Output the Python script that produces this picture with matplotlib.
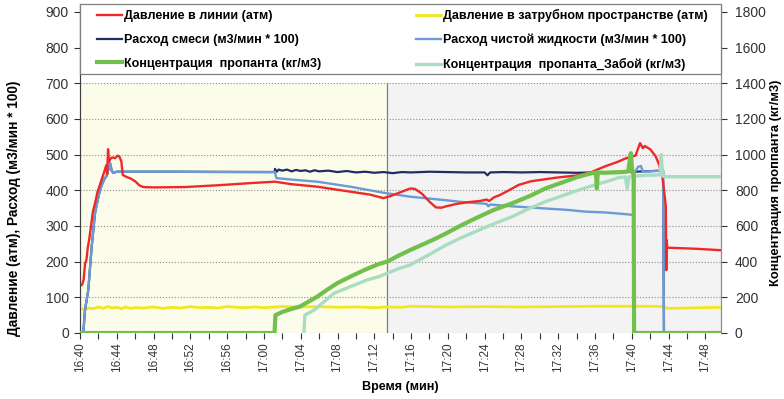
import matplotlib.pyplot as plt
from matplotlib.patches import Rectangle
from matplotlib.ticker import MultipleLocator, FuncFormatter

plt.rcParams['font.family'] = ['Liberation Sans', 'DejaVu Sans']

# время в минутах от 16:40
t_end = 69.7
t_split = 33.4

line_t = [0.0, 0.25, 0.4, 0.55, 0.7, 0.85, 1.0, 1.2, 1.4, 1.65, 1.9, 2.1, 2.35, 2.55, 2.7,
          2.85, 2.95, 3.05, 3.15, 3.3, 3.5, 3.8, 4.1, 4.3, 4.5, 4.65, 5.0, 5.5, 6.0, 6.5,
          6.9, 8.0, 11.4, 15.0, 18.5, 21.2, 23.0, 25.8, 29.4, 31.5, 33.0, 33.8, 34.7,
          35.9, 36.4, 37.2, 38.0, 38.7, 39.3, 39.8, 41.0, 42.0, 43.5, 44.2, 44.5, 45.0,
          45.6, 46.5, 47.7, 49.0, 50.6, 52.0, 54.2, 55.5, 57.1, 58.5, 59.3, 60.0, 60.4,
          60.9, 61.2, 61.4, 62.0, 62.6, 63.0, 63.35, 63.55, 63.7, 63.75, 63.8, 63.85,
          65.0, 67.0, 69.7]
line_p = [132, 136, 150, 195, 205, 240, 262, 300, 340, 365, 395, 410, 430, 445, 457,
          470, 445, 515, 480, 488, 492, 490, 497, 494, 480, 443, 438, 433, 425, 413,
          409, 408, 409, 414, 420, 424, 417, 410, 396, 388, 378, 384, 393,
          405, 404, 390, 368, 352, 351, 355, 362, 366, 370, 374, 370, 380,
          386, 398, 415, 425, 431, 436, 442, 450, 467, 480, 489, 495, 497,
          532, 518, 524, 515, 495, 470, 433, 390, 355, 176, 260, 239,
          238, 236, 232]

annulus_t = [0, 0.5, 1, 1.5, 2, 2.5, 3, 3.5, 4, 4.5, 5, 5.5, 6, 7, 8, 9, 10, 11, 12, 13,
             14, 15, 16, 17, 18, 19, 20, 22, 24, 26, 28, 30, 32, 33.5, 35, 36, 38, 40,
             44, 48, 52, 56, 60, 62, 63.6, 63.8, 66, 69.7]
annulus_p = [68, 66, 70, 68, 73, 69, 74, 70, 72, 68, 73, 69, 71, 70, 73, 69, 72, 70, 74, 71,
             72, 70, 74, 72, 71, 73, 71, 74, 73, 74, 72, 73, 71, 73, 72, 75, 74, 73,
             74, 73, 74, 75, 75, 75, 74, 69, 70, 72]

slurry_t = [0, 0.36, 0.54, 0.9, 1.27, 1.63, 1.9, 2.18, 2.45, 2.7, 2.9, 3.05, 3.27, 3.45,
            3.6, 4.0, 10.0, 21.15, 21.2, 21.4, 21.6, 22.0, 22.5, 23.0, 23.5, 24.0, 24.5,
            25.0, 25.5, 26.0, 27.0, 28.0, 29.0, 30.0, 31.0, 32.0, 33.0, 34.0, 35.0, 36.0,
            38.0, 40.0, 42.0, 44.0, 44.3, 44.6, 46.0, 48.0, 50.0, 52.0, 54.0, 56.0, 58.0,
            60.0, 60.3, 63.4, 63.5, t_end]
slurry_q = [0, 0, 64, 120, 242, 335, 370, 401, 420, 434, 440, 455, 476, 455,
            449, 452, 452, 451, 460, 452, 458, 455, 458, 453, 457, 454, 456,
            452, 456, 453, 455, 451, 454, 450, 452, 449, 451, 448, 451, 450,
            452, 451, 450, 450, 442, 450, 451, 450, 451, 450, 449, 450, 451,
            452, 452, 455, 0, 0]

clean_t = [0, 0.36, 0.54, 0.9, 1.27, 1.63, 1.9, 2.18, 2.45, 2.7, 2.9, 3.05, 3.27, 3.45,
           3.6, 4.0, 10.0, 15.0, 21.2, 21.35, 23.0, 25.8, 29.4, 33.0, 35.9, 39.8, 42.0,
           44.2, 44.4, 44.6, 47.0, 50.6, 53.0, 55.0, 57.0, 59.8, 60.2, 60.3, 60.7, 61.0,
           61.2, 62.0, 63.0, 63.4, 63.5, t_end]
clean_q = [0, 0, 64, 120, 242, 335, 370, 401, 420, 434, 440, 455, 476, 455,
           449, 452, 452, 451, 451, 434, 430, 424, 410, 393, 382, 372, 366,
           362, 355, 360, 355, 349, 345, 340, 338, 332, 330, 450, 466, 468,
           452, 453, 455, 455, 0, 0]

conc_t = [0, 21.15, 21.25, 22, 23, 23.9, 25, 25.8, 26.8, 28, 29.4, 31, 32.5, 33.4, 34.5,
          35.9, 37, 38.5, 39.8, 41.5, 43.4, 45, 47, 49, 50.6, 52.5, 54.2, 55.6, 56.1,
          56.2, 56.3, 57, 58, 59, 59.6, 59.9, 60.05, 60.2, 60.25, t_end]
conc_c = [0, 0, 100, 118, 135, 148, 180, 204, 240, 280, 316, 355, 387, 400, 430,
          465, 490, 525, 558, 605, 652, 690, 727, 770, 810, 845, 876, 895, 900,
          810, 900, 898, 900, 902, 905, 1008, 900, 900, 0, 0]

bottom_t = [24.35, 24.45, 25.5, 27.6, 29.5, 31.2, 32.5, 33.4, 34.7, 35.9, 36.2, 38, 39.8,
            41.5, 43.4, 45, 47, 48.5, 50.6, 52.5, 54.2, 56, 57.8, 58.5, 59.3, 59.5, 59.7,
            60.5, 61.5, 62.5, 63.1, 63.2, 63.35, 63.5, t_end]
bottom_c = [0, 100, 130, 222, 262, 297, 316, 335, 362, 381, 390, 440, 493,
            535, 577, 612, 652, 690, 736, 770, 801, 830, 857, 870, 875, 810, 875,
            880, 884, 885, 888, 1000, 880, 876, 876]

fig = plt.figure(figsize=(7.84, 3.99), dpi=100)
ax = fig.add_axes([80 / 784, 1 - 333 / 399, 641 / 784, 329 / 399])
ax2 = ax.twinx()

ytop = 922
ax.set_xlim(0, t_end)
ax.set_ylim(0, ytop)
ax2.set_ylim(0, 2 * ytop)

# фон: до и после разделителя
ax.fill_between([0, t_split], 0, 700, color='#fcfcea', lw=0, zorder=0)
ax.fill_between([t_split, t_end], 0, 700, color='#f3f3f3', lw=0, zorder=0)
ax.plot([t_split, t_split], [0, 700], color='#7f7f7f', lw=0.9, zorder=1)

for yv in range(0, 701, 100):
    ax.axhline(yv, color='#5a5a5a' if yv == 0 else '#8c8c8c', lw=0.8, ls=':', zorder=1)

h_line, = ax.plot(line_t, line_p, color='#f02828', lw=1.7, zorder=5,
                  label='Давление в линии (атм)')
h_ann, = ax.plot(annulus_t, annulus_p, color='#f2e71c', lw=2.0, zorder=3,
                 label='Давление в затрубном пространстве (атм)')
h_slurry, = ax.plot(slurry_t, slurry_q, color='#1f2f66', lw=1.6, zorder=3,
                    label='Расход смеси (м3/мин * 100)')
h_clean, = ax.plot(clean_t, clean_q, color='#6b9bd6', lw=1.7, zorder=4,
                   label='Расход чистой жидкости (м3/мин * 100)')
h_bottom, = ax2.plot(bottom_t, bottom_c, color='#a9dcc1', lw=2.4, zorder=3,
                     label='Концентрация  пропанта_Забой (кг/м3)')
h_conc, = ax2.plot(conc_t, conc_c, color='#72c04c', lw=3.0, zorder=4,
                   label='Концентрация  пропанта (кг/м3)')

# оси X
ax.xaxis.set_major_locator(MultipleLocator(2))


def fmt_time(x, pos):
    m = int(round(x))
    if m % 4:
        return ''
    total = 16 * 60 + 40 + m
    return f'{total // 60}:{total % 60:02d}'


ax.xaxis.set_major_formatter(FuncFormatter(fmt_time))
ax.tick_params(axis='x', labelrotation=90, labelsize=8.5, colors='#333333',
               length=4, width=0.8, pad=3)
ax.set_xlabel('Время (мин)', fontsize=9, fontweight='bold', labelpad=6)

ax.set_yticks(range(0, 901, 100))
ax.tick_params(axis='y', labelsize=10, colors='#333333', length=4, width=0.8, pad=4)
ax2.set_yticks(range(0, 1801, 200))
ax2.tick_params(axis='y', labelsize=10, colors='#333333', length=4, width=0.8, pad=6)

ax.set_ylabel('Давление (атм), Расход (м3/мин * 100)', fontsize=9.8, fontweight='bold')
ax.yaxis.set_label_coords(-0.092, 0.38)
ax2.set_ylabel('Концентрация проппанта (кг/м3)', fontsize=9.3, fontweight='bold')
ax2.yaxis.set_label_coords(1.076, 0.455)

for a in (ax, ax2):
    a.spines['top'].set_visible(False)
    a.spines['bottom'].set_visible(False)
    a.spines['right'].set_color('#8c8c8c')
    a.spines['left'].set_color('#404040')
ax2.patch.set_visible(False)

# рамка легенды в верхней части области графика
y_leg = 726 / ytop
ax2.add_patch(Rectangle((0, y_leg), 1, 1 - y_leg, transform=ax2.transAxes,
                        facecolor='white', edgecolor='#7f7f7f', lw=0.9, zorder=9,
                        clip_on=False))

handles = [h_line, h_slurry, h_conc, h_ann, h_clean, h_bottom]
leg = ax2.legend(handles=handles, loc='upper left', ncol=2, frameon=False,
                 bbox_to_anchor=(17 / 641, (333 - 9) / 329), borderaxespad=0, borderpad=0,
                 prop={'size': 9, 'weight': 'bold'}, handlelength=2.0, handletextpad=0.15,
                 labelspacing=0.95, columnspacing=7.6)
leg.set_zorder(10)

fig.savefig('out.png', dpi=100)
